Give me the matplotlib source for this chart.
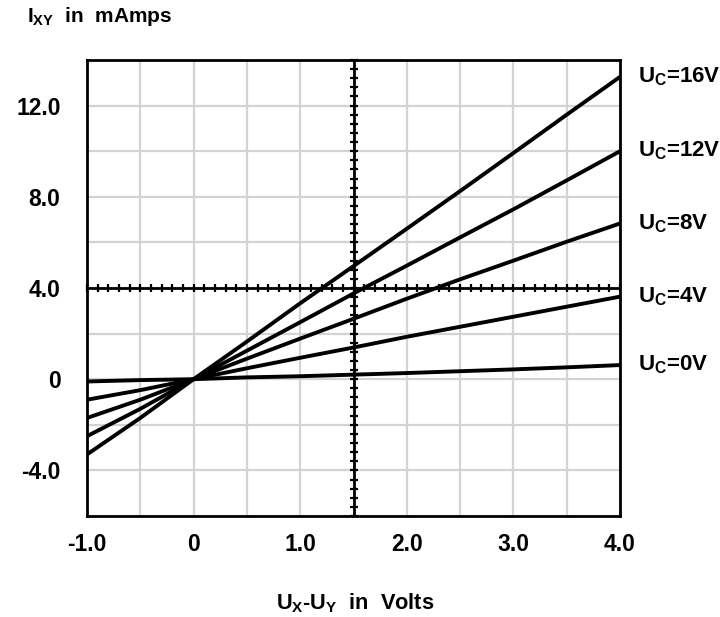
import matplotlib
matplotlib.use("Agg")
import matplotlib.pyplot as plt
import numpy as np

plt.rcParams['font.family'] = ['Liberation Sans', 'DejaVu Sans']
plt.rcParams['font.weight'] = 'bold'
plt.rcParams['mathtext.fontset'] = 'custom'
plt.rcParams['mathtext.rm'] = 'Liberation Sans:bold'
plt.rcParams['mathtext.it'] = 'Liberation Sans:bold'
plt.rcParams['mathtext.bf'] = 'Liberation Sans:bold'

# Data
x_volts = [-1.0, -0.5, 0.0, 0.5, 1.0, 1.5, 2.0, 2.5, 3.0, 3.5, 4.0]
i_16v = [-3.3, -1.7, 0.0, 1.65, 3.33, 4.96, 6.6, 8.25, 9.92, 11.6, 13.26]
i_12v = [-2.5, -1.3, 0.0, 1.25, 2.5, 3.76, 4.98, 6.22, 7.45, 8.72, 10.0]
i_8v = [-1.7, -0.9, 0.0, 0.9, 1.78, 2.65, 3.53, 4.38, 5.2, 6.03, 6.83]
i_4v = [-0.9, -0.48, 0.0, 0.48, 0.94, 1.39, 1.86, 2.3, 2.74, 3.18, 3.62]
i_0v = [-0.1, -0.04, 0.0, 0.08, 0.13, 0.2, 0.27, 0.35, 0.43, 0.52, 0.62]
series = [i_16v, i_12v, i_8v, i_4v, i_0v]
series_labels = ['16V', '12V', '8V', '4V', '0V']

x_ticks = [-1, 0, 1, 2, 3, 4]
x_ticklabels = ['-1.0', '0', '1.0', '2.0', '3.0', '4.0']
y_ticks = [-4, 0, 4, 8, 12]
y_ticklabels = ['-4.0', '0', '4.0', '8.0', '12.0']
cross_x = 1.5
cross_y = 4.0

fig = plt.figure(figsize=(7.2, 6.17), dpi=100)
ax = fig.add_axes([87/720, 1-516/617, (620-87)/720, (516-60)/617])
ax.set_xlim(-1, 4)
ax.set_ylim(-6, 14)

# grid
for gx in np.arange(-1, 4.01, 0.5):
    ax.axvline(gx, color='#d3d3d3', lw=1.6, zorder=0)
for gy in np.arange(-6, 14.01, 2):
    ax.axhline(gy, color='#d3d3d3', lw=1.6, zorder=0)

# crosshair
ax.axvline(cross_x, color='black', lw=2, zorder=2)
ax.axhline(cross_y, color='black', lw=2, zorder=2)
ty = np.arange(-6, 14.001, 0.4)
ax.plot(np.full_like(ty, cross_x), ty, ls='none', marker='_', ms=6, mew=1.6, color='black', zorder=2, clip_on=False)
tx = np.arange(-1, 4.001, 0.1)
ax.plot(tx, np.full_like(tx, cross_y), ls='none', marker='|', ms=6, mew=1.6, color='black', zorder=2, clip_on=False)

for ys, lab in zip(series, series_labels):
    ax.plot(x_volts, ys, color='black', lw=2.8, zorder=3, solid_capstyle='butt')
    ax.annotate('U$_\\mathrm{C}$=' + lab, xy=(x_volts[-1], ys[-1]), xytext=(18, 0),
                textcoords='offset pixels', va='center', ha='left', fontsize=16,
                fontweight='bold', annotation_clip=False)

ax.set_xticks(x_ticks)
ax.set_xticklabels(x_ticklabels)
ax.set_yticks(y_ticks)
ax.set_yticklabels(y_ticklabels)
ax.tick_params(length=0, labelsize=16.5)
ax.tick_params(axis='y', pad=19)
ax.tick_params(axis='x', pad=12)
for lbl in ax.get_xticklabels() + ax.get_yticklabels():
    lbl.set_fontweight('bold')
for sp in ax.spines.values():
    sp.set_linewidth(2)
    sp.set_color('black')
    sp.set_zorder(4)

fig.text(27/720, 1-17/617, 'I$_\\mathrm{XY}$  in  mAmps', fontsize=15, fontweight='bold', va='center', ha='left')
fig.text(355/720, 1-603/617, 'U$_\\mathrm{X}$-U$_\\mathrm{Y}$  in  Volts', fontsize=15.7, fontweight='bold', va='center', ha='center')

fig.savefig('out.png', dpi=100)
